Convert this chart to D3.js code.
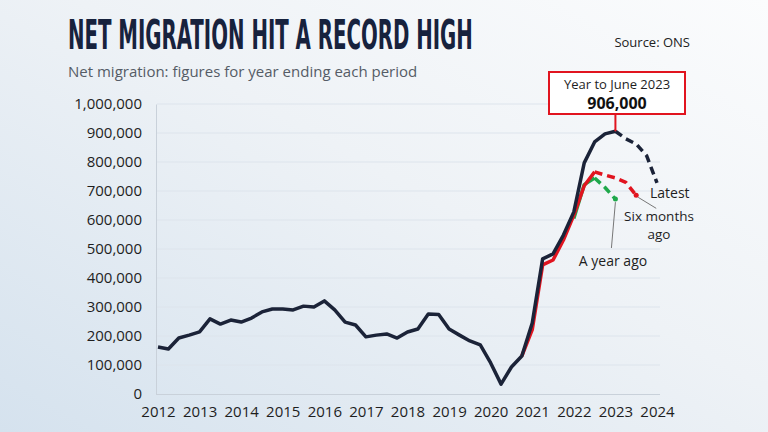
<!DOCTYPE html>
<html><head><meta charset="utf-8">
<script src="https://cdn.jsdelivr.net/npm/d3@7"></script>
<style>
html,body{margin:0;padding:0;overflow:hidden;}
svg{display:block;}
</style></head>
<body>
<script>
// ---- data ----
const title = "NET MIGRATION HIT A RECORD HIGH";
const subtitle = "Net migration: figures for year ending each period";
const source = "Source: ONS";
const xTickYears = [2012,2013,2014,2015,2016,2017,2018,2019,2020,2021,2022,2023,2024];
const yTickValues = [0,100000,200000,300000,400000,500000,600000,700000,800000,900000,1000000];
const firstPeriod = 2012;      // first quarterly period shown
const periodStep = 0.25;       // quarterly figures
// Latest estimates (thousands), quarterly from first period
const latestSolid = [162,155,193,203,214,259,241,255,248,262,283,293,293,290,303,300,321,
  290,248,238,197,203,207,193,214,224,276,274,224,203,183,169,107,34,93,131,245,466,483,548,628,797,869,897,906];
const latestSolidStart = 0;
const latestDashed = [906,880,862,822,728];
const latestDashedStart = 44;
// Estimates six months ago
const sixMonthsSolid = [131,222,445,462,531,617,718,766];
const sixMonthsSolidStart = 35;
const sixMonthsDashed = [766,755,745,730,685];
const sixMonthsDashedStart = 42;
// Estimates a year ago
const yearAgoSolid = [605,722,745];
const yearAgoSolidStart = 40;
const yearAgoDashed = [745,712,672];
const yearAgoDashedStart = 42;
const peakLabel = "Year to June 2023";
const peakValue = 906000;

// ---- layout ----
const W = 768, H = 432;
const svg = d3.select("body").append("svg").attr("width", W).attr("height", H);
const defs = svg.append("defs");
const grad = defs.append("linearGradient").attr("id","bg")
  .attr("x1","100%").attr("y1","0%").attr("x2","0%").attr("y2","100%");
grad.append("stop").attr("offset","0%").attr("stop-color","#fbfcfd");
grad.append("stop").attr("offset","45%").attr("stop-color","#eef2f6");
grad.append("stop").attr("offset","100%").attr("stop-color","#d5e2ee");
svg.append("rect").attr("width",W).attr("height",H).attr("fill","url(#bg)");

const x = d3.scaleLinear().domain([2012, 2024]).range([158, 657]);
const y = d3.scaleLinear().domain([0, 1000000]).range([394, 104]);
const font = "'Open Sans', sans-serif";
const navy = "#1b2338", red = "#e1141f", green = "#1fa84b";

// title (condensed via horizontal scale to the reference width)
const tg = svg.append("g").attr("transform","translate(68,49)");
const tt = tg.append("text").attr("x",0).attr("y",0).text(title)
  .attr("font-family","'Liberation Sans Narrow','DejaVu Sans Condensed',sans-serif")
  .attr("font-weight","bold").attr("font-size",41).attr("fill","#17223d");
const natural = tt.node().getComputedTextLength();
tg.attr("transform",`translate(68,49) scale(${405/natural},1)`);

svg.append("text").attr("x",68).attr("y",77).text(subtitle)
  .attr("font-family",font).attr("font-size",15).attr("fill","#555c66");
svg.append("text").attr("x",690).attr("y",47).attr("text-anchor","end").text(source)
  .attr("font-family",font).attr("font-size",13).attr("fill","#222");

// grid
svg.append("g").selectAll("line").data(yTickValues.filter(d=>d>0)).join("line")
  .attr("x1",157).attr("x2",660).attr("y1",d=>y(d)).attr("y2",d=>y(d))
  .attr("stroke","#dde4ec").attr("stroke-width",1);

// axes
const yAxis = d3.axisLeft(y).tickValues(yTickValues).tickSize(0).tickPadding(14)
  .tickFormat(d3.format(","));
const gy = svg.append("g").attr("transform","translate(156,0)").call(yAxis);
gy.select(".domain").attr("stroke","#c9d1da");
gy.selectAll("text").attr("font-family",font).attr("font-size",15).attr("fill","#1e1e1e");

const xAxis = d3.axisBottom(x).tickValues(xTickYears).tickSize(0).tickPadding(12)
  .tickFormat(d3.format("d"));
const gx = svg.append("g").attr("transform","translate(0,394)").call(xAxis);
gx.select(".domain").attr("d","M156,0.5H660").attr("stroke","#c9d1da");
gx.selectAll("text").attr("font-family",font).attr("font-size",15).attr("fill","#1e1e1e");

// lines
const line = d3.line().x(d=>x(d.t)).y(d=>y(d.v*1000));
function pts(arr, start){ return arr.map((v,i)=>({t: firstPeriod + (start+i)*periodStep, v})); }
function draw(arr, start, color, dashed, w){
  svg.append("path").datum(pts(arr,start)).attr("d",line)
    .attr("fill","none").attr("stroke",color).attr("stroke-width",w||3.5)
    .attr("stroke-linejoin","round")
    .attr("stroke-dasharray",dashed?"8,5":null);
}
draw(yearAgoSolid, yearAgoSolidStart, green, false);
draw(yearAgoDashed, yearAgoDashedStart, green, true);
draw(sixMonthsSolid, sixMonthsSolidStart, red, false);
draw(sixMonthsDashed, sixMonthsDashedStart, red, true);
draw(latestSolid, latestSolidStart, navy, false);
draw(latestDashed, latestDashedStart, navy, true);

// end dots
const ya = pts(yearAgoDashed, yearAgoDashedStart).slice(-1)[0];
const sm = pts(sixMonthsDashed, sixMonthsDashedStart).slice(-1)[0];
const lt = pts(latestDashed, latestDashedStart).slice(-1)[0];
svg.append("circle").attr("cx",x(ya.t)).attr("cy",y(ya.v*1000)).attr("r",2.5).attr("fill",green);
svg.append("circle").attr("cx",x(sm.t)).attr("cy",y(sm.v*1000)).attr("r",2.5).attr("fill",red);

// leaders
svg.append("line").attr("x1",x(sm.t)+2).attr("y1",y(sm.v*1000)+2).attr("x2",x(sm.t)+20).attr("y2",y(sm.v*1000)+13)
  .attr("stroke","#777").attr("stroke-width",1);
svg.append("line").attr("x1",x(ya.t)).attr("y1",y(ya.v*1000)+3).attr("x2",x(ya.t)-4).attr("y2",248)
  .attr("stroke","#777").attr("stroke-width",1);

// labels
const lab = (tx,ty,s,anchor,fs)=>svg.append("text").attr("x",tx).attr("y",ty).text(s)
  .attr("font-family",font).attr("font-size",fs||14).attr("fill","#1e1e1e").attr("text-anchor",anchor||"start");
lab(x(lt.t)-7, 198, "Latest");
lab(659, 221, "Six months", "middle", 13.5);
lab(659, 239, "ago", "middle", 13.5);
lab(613, 266, "A year ago", "middle");

// peak annotation
const px = x(firstPeriod + 44*periodStep), py = y(peakValue);
svg.append("line").attr("x1",px).attr("x2",px).attr("y1",114).attr("y2",py)
  .attr("stroke",red).attr("stroke-width",2);
svg.append("rect").attr("x",549).attr("y",72).attr("width",136).attr("height",42)
  .attr("fill","#fff").attr("stroke",red).attr("stroke-width",2);
svg.append("text").attr("x",617).attr("y",89).attr("text-anchor","middle").text(peakLabel)
  .attr("font-family",font).attr("font-size",13).attr("fill","#1e1e1e");
svg.append("text").attr("x",617).attr("y",109).attr("text-anchor","middle").text(d3.format(",")(peakValue))
  .attr("font-family",font).attr("font-size",16).attr("font-weight","bold").attr("fill","#111");
</script>
</body></html>
